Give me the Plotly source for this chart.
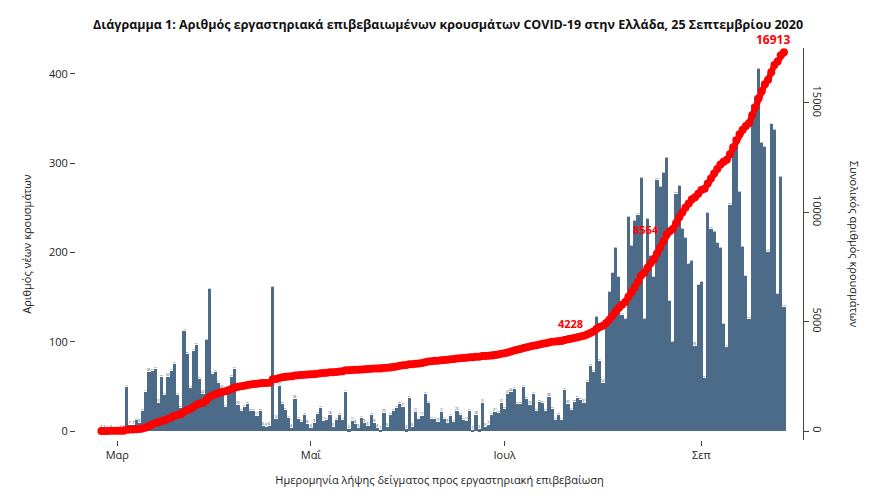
import plotly.graph_objects as go
import pandas as pd
import numpy as np

start_date = "2020-02-25"
new_cases = [
    2, 2, 1, 2, 0, 0, 2, 2, 49, 7, 7, 12, 9, 23, 44, 66, 67, 70, 31, 60, 40, 60, 67, 75, 40, 26,
    112, 86, 48, 90, 96, 58, 42, 102, 159, 64, 66, 54, 47, 27, 47, 60, 69, 29, 22, 27, 30, 23, 23,
    17, 23, 6, 5, 6, 161, 14, 51, 30, 24, 15, 4,
    36, 13, 10, 18, 8, 4, 9, 19, 26, 11, 12, 18, 5, 12, 18, 12, 44, 2, 11, 8, 3, 15, 9, 6,
    18, 9, 4, 1, 20, 5, 18, 23, 26, 30, 27, 2, 37, 5, 21, 14, 17, 42, 32, 13, 13,
    10, 21, 14, 9, 17, 10, 23, 18,
    12, 11, 23, 1, 18, 2, 31, 5, 7, 18, 21, 20, 31, 25, 41, 44, 47, 30, 30, 49, 36, 29, 42, 23,
    33, 32, 23, 38, 25, 12, 18, 12, 46, 30, 24, 33, 37, 35, 31,
    55, 73, 66, 128, 79, 54, 125, 156, 177, 205, 172, 130, 126, 240, 207, 235, 242, 283, 126, 237,
    196, 173, 281, 273, 289, 306, 146, 100, 266, 275, 226, 216, 187, 190, 95, 164, 167, 59, 244,
    226, 223, 211, 205, 120, 94, 253, 319, 323, 268, 206, 174, 125, 365, 374, 406, 323, 318, 200,
    344, 337, 154, 285, 139,
]
cum_label_dates = ["2020-07-27", "2020-08-20", None]
cum_label_texts = ["4228", "8564", "16913"]
tick_dates = ["2020-03-01", "2020-05-01", "2020-07-01", "2020-09-01"]
tick_labels = ["Μαρ", "Μαΐ", "Ιουλ", "Σεπ"]

dates = pd.date_range(start_date, periods=len(new_cases), freq="D")
cum = np.cumsum(new_cases)
cum_label_dates[2] = dates[-1].strftime("%Y-%m-%d")

fig = go.Figure()
fig.add_trace(go.Bar(x=dates, y=new_cases, marker_color="#4b6b89", marker_line_width=0,
                     text=new_cases, textposition="outside",
                     textfont=dict(size=4, color="#333"), cliponaxis=False))
fig.add_trace(go.Scatter(x=dates, y=cum, yaxis="y2", mode="lines+markers", cliponaxis=False,
                         line=dict(color="red", width=6), marker=dict(color="red", size=8)))
for d, t in zip(cum_label_dates, cum_label_texts):
    idx = list(dates.strftime("%Y-%m-%d")).index(d)
    last = t == "16913"
    fig.add_annotation(x=dates[idx], y=cum[idx], yref="y2", text="<b>" + t + "</b>",
                       showarrow=False, xanchor="right",
                       yanchor="bottom", xshift=8 if last else -2, yshift=2,
                       font=dict(color="red", size=12 if last else 11))

fig.update_layout(
    width=880, height=502, plot_bgcolor="white", paper_bgcolor="white",
    margin=dict(l=68, r=85, t=40, b=70), showlegend=False, bargap=0,
    font=dict(family="Open Sans", size=11, color="#222"),
    title=dict(text="<b>Διάγραμμα 1: Αριθμός εργαστηριακά επιβεβαιωμένων κρουσμάτων COVID-19 στην Ελλάδα, 25 Σεπτεμβρίου 2020</b>",
               x=0.5, xanchor="center", y=0.975, font=dict(size=12.5, color="#111")),
    xaxis=dict(range=["2020-02-17", "2020-10-03"], tickvals=tick_dates, ticktext=tick_labels,
               ticks="outside", ticklen=5, showgrid=False, showline=False, zeroline=False,
               title=dict(text="Ημερομηνία λήψης δείγματος προς εργαστηριακή επιβεβαίωση", font=dict(size=11))),
    yaxis=dict(range=[-10, 429], tickvals=[0, 100, 200, 300, 400], ticks="outside", ticklen=5,
               showgrid=False, showline=False, zeroline=False,
               title=dict(text="Αριθμός νέων κρουσμάτων", font=dict(size=11))),
    yaxis2=dict(range=[-411, 17513], overlaying="y", side="right", tickvals=[0, 5000, 10000, 15000],
                tickformat="d", ticks="outside", ticklen=5, showgrid=False, showline=True,
                linecolor="#444", zeroline=False, tickangle=90),
)
fig.add_annotation(x=1.085, y=0.5, xref="paper", yref="paper", text="Συνολικός αριθμός κρουσμάτων",
                   textangle=90, showarrow=False, font=dict(size=11))
fig.write_html("out.html")
